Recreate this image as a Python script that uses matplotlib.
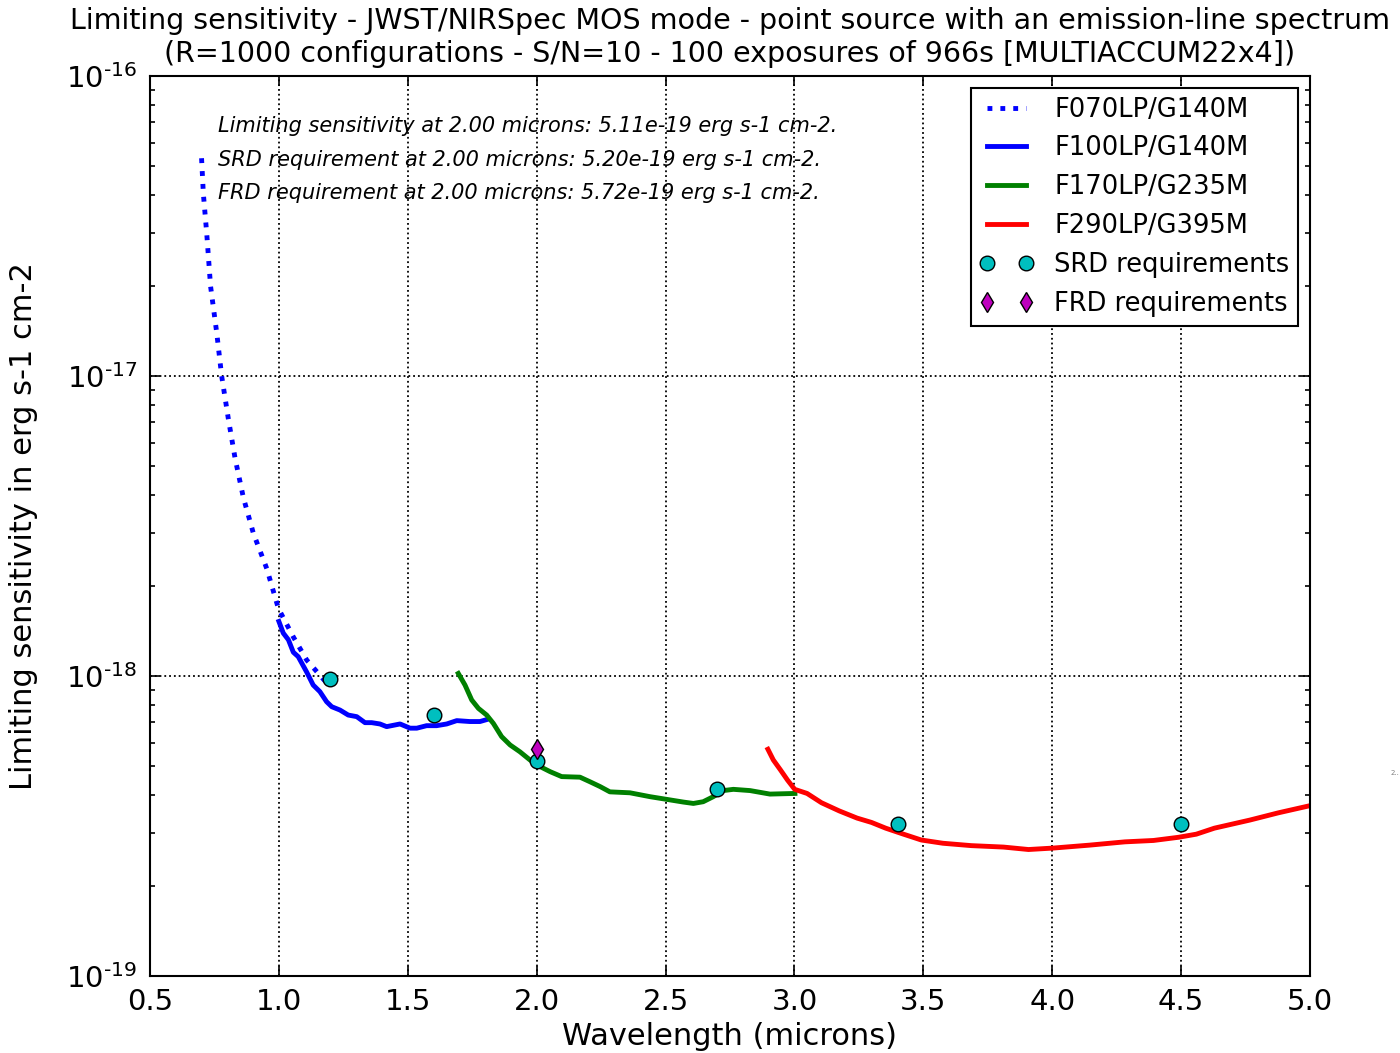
import matplotlib
matplotlib.use("Agg")
import matplotlib.pyplot as plt
import numpy as np
from matplotlib.ticker import LogLocator, NullFormatter, MultipleLocator, FuncFormatter

# ---- data ----
f070_x = [0.700, 0.707, 0.720, 0.735, 0.759, 0.778, 0.804, 0.830, 0.862, 0.901, 0.953, 0.998, 1.056, 1.108, 1.198]
f070_y = [5.32e-17, 4.05e-17, 2.99e-17, 1.99e-17, 1.39e-17, 1.00e-17, 7.19e-18, 5.32e-18, 3.94e-18, 2.99e-18,
          2.28e-18, 1.68e-18, 1.35e-18, 1.13e-18, 9.21e-19]

f100_x = [1.000, 1.017, 1.037, 1.056, 1.075, 1.108, 1.133, 1.159, 1.185, 1.205, 1.237, 1.269, 1.302, 1.334,
          1.360, 1.392, 1.418, 1.470, 1.509, 1.535, 1.573, 1.612, 1.651, 1.690, 1.741, 1.780, 1.812]
f100_y = [1.52e-18, 1.39e-18, 1.32e-18, 1.20e-18, 1.16e-18, 1.03e-18, 9.33e-19, 8.87e-19, 8.21e-19, 7.90e-19,
          7.70e-19, 7.41e-19, 7.32e-19, 6.99e-19, 6.99e-19, 6.92e-19, 6.78e-19, 6.92e-19, 6.70e-19, 6.70e-19,
          6.83e-19, 6.83e-19, 6.92e-19, 7.10e-19, 7.05e-19, 7.05e-19, 7.18e-19]

f170_x = [1.696, 1.722, 1.748, 1.774, 1.806, 1.832, 1.864, 1.897, 1.935, 1.974, 2.013, 2.052, 2.097, 2.168,
          2.207, 2.246, 2.284, 2.362, 2.440, 2.504, 2.569, 2.608, 2.646, 2.685, 2.724, 2.763, 2.828, 2.905, 3.002]
f170_y = [1.02e-18, 9.33e-19, 8.32e-19, 7.80e-19, 7.41e-19, 6.95e-19, 6.28e-19, 5.89e-19, 5.59e-19, 5.25e-19,
          4.99e-19, 4.80e-19, 4.62e-19, 4.60e-19, 4.44e-19, 4.28e-19, 4.11e-19, 4.08e-19, 3.96e-19, 3.88e-19,
          3.80e-19, 3.76e-19, 3.81e-19, 3.96e-19, 4.15e-19, 4.19e-19, 4.15e-19, 4.04e-19, 4.06e-19]

f290_x = [2.897, 2.918, 2.946, 2.973, 3.001, 3.049, 3.105, 3.174, 3.243, 3.299, 3.354, 3.423, 3.492, 3.576,
          3.686, 3.811, 3.908, 4.005, 4.144, 4.282, 4.393, 4.490, 4.559, 4.629, 4.767, 4.878, 4.996]
f290_y = [5.70e-19, 5.25e-19, 4.86e-19, 4.50e-19, 4.19e-19, 4.06e-19, 3.78e-19, 3.55e-19, 3.36e-19, 3.25e-19,
          3.11e-19, 2.97e-19, 2.84e-19, 2.77e-19, 2.72e-19, 2.69e-19, 2.64e-19, 2.67e-19, 2.73e-19, 2.80e-19,
          2.83e-19, 2.90e-19, 2.97e-19, 3.11e-19, 3.31e-19, 3.50e-19, 3.69e-19]

srd_x = [1.2, 1.6, 2.0, 2.7, 3.4, 4.5]
srd_y = [9.8e-19, 7.4e-19, 5.2e-19, 4.2e-19, 3.2e-19, 3.2e-19]

frd_x = [2.0]
frd_y = [5.72e-19]

labels = ["F070LP/G140M", "F100LP/G140M", "F170LP/G235M", "F290LP/G395M", "SRD requirements", "FRD requirements"]
notes = ["Limiting sensitivity at 2.00 microns: 5.11e-19 erg s-1 cm-2.",
         "SRD requirement at 2.00 microns: 5.20e-19 erg s-1 cm-2.",
         "FRD requirement at 2.00 microns: 5.72e-19 erg s-1 cm-2."]
title = ("Limiting sensitivity - JWST/NIRSpec MOS mode - point source with an emission-line spectrum\n"
         "(R=1000 configurations - S/N=10 - 100 exposures of 966s [MULTIACCUM22x4])")

# ---- figure ----
fig = plt.figure(figsize=(14, 10.53), dpi=100)
ax = fig.add_axes([150/1400, 1-976/1053, 1160/1400, 900/1053])

LW = 3.5
ax.plot(f070_x, f070_y, color='blue', lw=LW, ls=':', label=labels[0])
ax.plot(f100_x, f100_y, color='blue', lw=LW, label=labels[1])
ax.plot(f170_x, f170_y, color='green', lw=LW, label=labels[2])
ax.plot(f290_x, f290_y, color='red', lw=LW, label=labels[3])
ax.plot(srd_x, srd_y, 'o', color='c', mec='k', mew=1, ms=10.5, ls='none', label=labels[4])
ax.plot(frd_x, frd_y, 'd', color='m', mec='k', mew=1, ms=10.5, ls='none', label=labels[5])

ax.set_yscale('log')
ax.set_xlim(0.5, 5.0)
ax.set_ylim(1e-19, 1e-16)
ax.xaxis.set_major_locator(MultipleLocator(0.5))
ax.yaxis.set_major_locator(LogLocator(base=10, numticks=10))
ax.yaxis.set_major_formatter(FuncFormatter(lambda v, p: r'$10^{\text{%d}}$' % int(round(np.log10(v)))))
ax.yaxis.set_minor_locator(LogLocator(base=10, subs=range(2, 10), numticks=20))
ax.yaxis.set_minor_formatter(NullFormatter())
ax.grid(True, which='major', color='k', ls=':', lw=1.3)

ax.tick_params(which='both', direction='in', top=True, right=True, labelsize=21, width=1.2)
ax.tick_params(which='major', length=7, pad=9)
ax.tick_params(which='minor', length=3.5)
for s in ax.spines.values():
    s.set_linewidth(1.5)

ax.set_xlabel("Wavelength (microns)", fontsize=22, labelpad=4)
ax.set_ylabel("Limiting sensitivity in erg s-1 cm-2", fontsize=22, labelpad=20)
ax.set_title(title, fontsize=20.5, linespacing=1.22, pad=10)

for i, t in enumerate(notes):
    ax.text((218-150)/1160, 1-(126+33.5*i-76)/900, t, transform=ax.transAxes,
            fontsize=15, style='italic', va='center', ha='left')

leg = ax.legend(loc='upper right', fontsize=18.5, numpoints=2, fancybox=False, framealpha=1,
                edgecolor='k', borderaxespad=0.45, handlelength=2.1, labelspacing=0.5,
                borderpad=0.35, handletextpad=0.8)
leg.get_frame().set_linewidth(1.5)

fig.text(1391/1400, 1-775/1053, "2..", fontsize=5, color='gray')

fig.savefig("out.png", dpi=100)
